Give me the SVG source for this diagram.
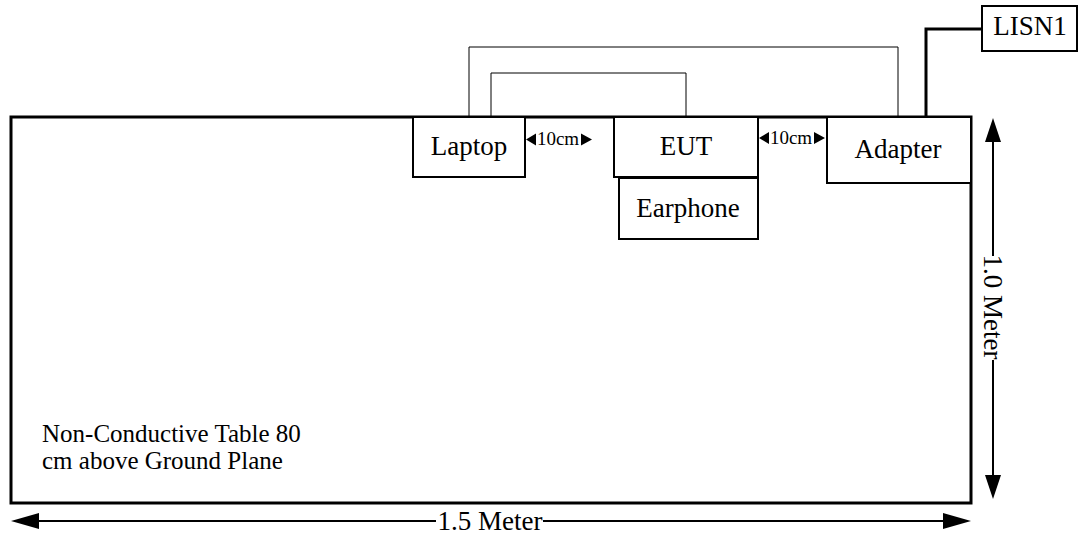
<svg xmlns="http://www.w3.org/2000/svg" width="1080" height="538" viewBox="0 0 1080 538">
<defs>
<style>
.box{fill:#fff;stroke:#000;stroke-width:2}
.lbl{font-family:"Liberation Serif","Times New Roman",serif;font-size:27px;fill:#000;text-anchor:middle}
.small{font-family:"Liberation Serif","Times New Roman",serif;font-size:19px;fill:#000;text-anchor:middle}
.thin{fill:none;stroke:#000;stroke-width:1}
.thick{fill:none;stroke:#000;stroke-width:3}
.dim{fill:none;stroke:#000;stroke-width:2}
</style>
</defs>
<rect width="1080" height="538" fill="#fff"/>
<g id="table">
<rect x="11" y="117" width="960" height="386" fill="#fff" stroke="#000" stroke-width="3"/>
<text x="42" y="442" font-family="Liberation Serif, Times New Roman, serif" font-size="25">Non-Conductive Table 80</text>
<text x="42" y="469" font-family="Liberation Serif, Times New Roman, serif" font-size="25">cm above Ground Plane</text>
</g>
<g id="connectors">
<path class="thin" d="M469 117V47H898V117"/>
<path class="thin" d="M491 117V73H686V117"/>
<path class="thick" d="M926 117V29H982"/>
</g>
<g id="laptop">
<rect class="box" x="413" y="117" width="112" height="60"/>
<text class="lbl" x="469" y="155">Laptop</text>
</g>
<g id="eut">
<rect class="box" x="614" y="117" width="144" height="60"/>
<text class="lbl" x="686" y="155">EUT</text>
</g>
<g id="earphone">
<rect class="box" x="619" y="178" width="139" height="61"/>
<text class="lbl" x="688" y="217">Earphone</text>
</g>
<g id="adapter">
<rect class="box" x="827" y="117" width="144" height="66"/>
<text class="lbl" x="898" y="158">Adapter</text>
</g>
<g id="lisn1">
<rect class="box" x="982" y="6" width="95" height="45"/>
<text class="lbl" x="1030" y="35">LISN1</text>
</g>
<g id="dimensions">
<path d="M526 139.5L536 133.5V145.5Z M592 139.5L581 133.5V145.5Z" fill="#000"/>
<text class="small" x="558" y="145">10cm</text>
<path d="M759 138L769 132V144Z M825 138L814 132V144Z" fill="#000"/>
<text class="small" x="791" y="144">10cm</text>
<path class="dim" d="M993 140V256 M993 360V477"/>
<path d="M993 118L985 142H1001Z M993 499L985 475H1001Z" fill="#000"/>
<text class="lbl" transform="translate(984,307) rotate(90)" x="0" y="0">1.0 Meter</text>
<path class="dim" d="M38 521H436 M543 521H945"/>
<path d="M11 521L39 513V529Z M971 521L943 513V529Z" fill="#000"/>
<text class="lbl" x="490" y="530">1.5 Meter</text>
</g>
</svg>
